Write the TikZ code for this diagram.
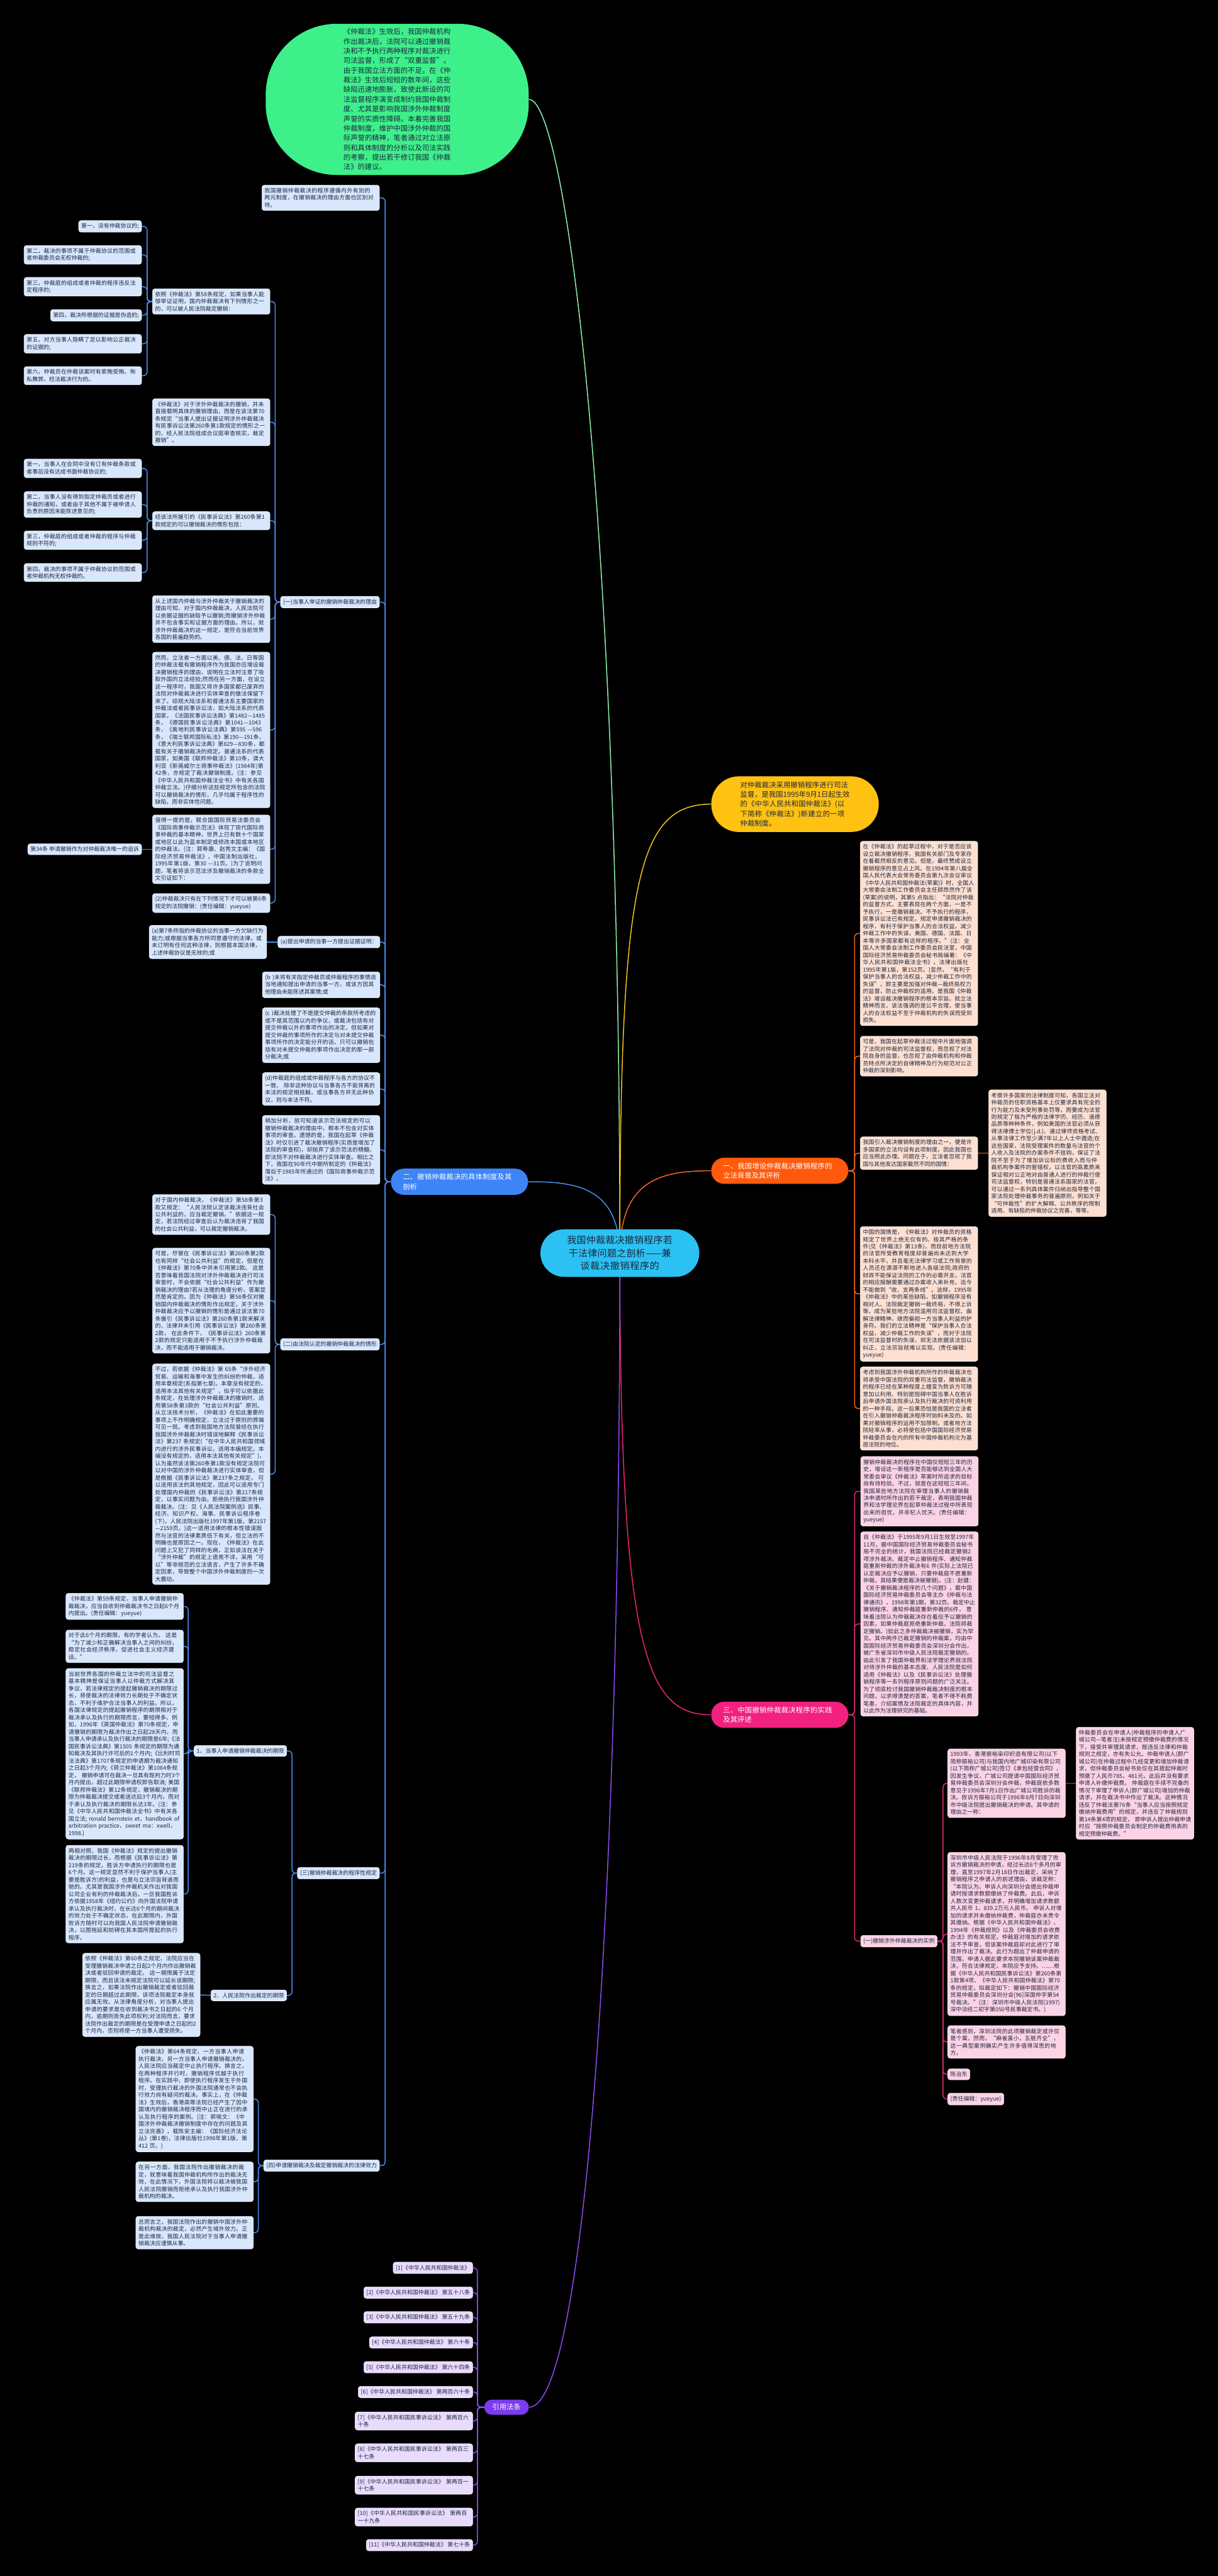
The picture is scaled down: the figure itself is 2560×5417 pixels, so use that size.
\documentclass[tikz,border=0pt]{standalone}
\usepackage{fontspec}
\setmainfont{Noto Sans CJK SC}
\XeTeXlinebreaklocale "zh"
\XeTeXlinebreakskip=0pt plus 1pt
\usetikzlibrary{backgrounds}
\definecolor{ink}{HTML}{1B2740}
\definecolor{rootCyan}{HTML}{2BC2F3}
\definecolor{topGreen}{HTML}{3EF08A}
\definecolor{topLine}{HTML}{8DF0AE}
\definecolor{introYellow}{HTML}{FFC212}
\definecolor{introLine}{HTML}{F2C21B}
\definecolor{bgOrange}{HTML}{FF5A0C}
\definecolor{bgLine}{HTML}{F4671F}
\definecolor{bgLight}{HTML}{FDE0D2}
\definecolor{sysBlue}{HTML}{3D84F6}
\definecolor{sysLine}{HTML}{4B8CF2}
\definecolor{sysLight}{HTML}{D9E7FC}
\definecolor{pracPink}{HTML}{F2207F}
\definecolor{pracLine}{HTML}{E8267A}
\definecolor{pracLight}{HTML}{FCD3E5}
\definecolor{refPurple}{HTML}{7B3BEE}
\definecolor{refLine}{HTML}{8B4DF2}
\definecolor{refLight}{HTML}{E9DBFC}
\newcommand{\leaffont}{\fontsize{11.8}{15.2}\selectfont}
\newcommand{\branchfont}{\fontsize{15}{20.3}\selectfont}
\newcommand{\rootfont}{\fontsize{20}{27}\selectfont}
\tikzset{
    root node/.style={rounded corners=50pt, fill=rootCyan, text=ink,
                      font=\rootfont, align=center, text width=236pt,
                      minimum width=334pt, minimum height=100pt},
    branch node/.style={rounded corners=27pt, text=white, font=\branchfont,
                        inner xsep=25pt, inner ysep=7pt, align=left,
                        text width=238pt, minimum height=55pt},
    leaf/.style={rounded corners=5pt, font=\leaffont, text=ink, align=left,
                 inner xsep=5.5pt, inner ysep=6pt, line width=0.8pt},
    wide/.style={text width=236pt},
    sys box/.style={leaf, fill=sysLight, draw=white!60!sysLight},
    bg box/.style={leaf, fill=bgLight, draw=white!60!bgLight},
    prac box/.style={leaf, fill=pracLight, draw=white!60!pracLight},
    ref box/.style={leaf, fill=refLight, draw=white!60!refLight},
    link/.style={line width=2pt, rounded corners=8pt},
    sys link/.style={link, sysLine},
    bg link/.style={link, bgLine},
    prac link/.style={link, pracLine},
    ref link/.style={link, refLine},
}

\begin{document}
\begin{tikzpicture}[x=1pt, y=-1pt]
\useasboundingbox (0,0) rectangle (2560,5417);
\begin{pgfonlayer}{background}
\fill[black] (0,0) rectangle (2560,5417);
\end{pgfonlayer}

% Centre topic and the main topics around it.
\node[root node] (root) at (1303,2635)
    {我国仲裁裁决撤销程序若\\干法律问题之剖析——兼\\谈裁决撤销程序的};
\node[rounded corners=150pt, fill=topGreen, text=ink, font=\branchfont,
      text width=226pt, align=left, minimum width=553pt, minimum height=318pt]
    (summary) at (835,209)
    {《仲裁法》生效后，我国仲裁机构作出裁决后，法院可以通过撤销裁决和不予执行两种程序对裁决进行司法监督，形成了“双重监督”。由于我国立法方面的不足，在《仲裁法》生效后短短的数年间，这些缺陷迅速地膨胀，致使此新设的司法监督程序演变成制约我国仲裁制度、尤其是影响我国涉外仲裁制度声誉的实质性障碍。本着完善我国仲裁制度，维护中国涉外仲裁的国际声誉的精神，笔者通过对立法原则和具体制度的分析以及司法实践的考察，提出若干修订我国《仲裁法》的建议。};
\node[rounded corners=58pt, fill=introYellow, text=ink, font=\branchfont,
      text width=230pt, align=left, minimum width=352pt, minimum height=117pt,
      anchor=west] (intro) at (1495,1691)
    {对仲裁裁决采用撤销程序进行司法监督，是我国1995年9月1日起生效的《中华人民共和国仲裁法》(以下简称《仲裁法》)新建立的一项仲裁制度。};
\node[branch node, fill=bgOrange, anchor=west] (bg) at (1495,2462)
    {一、我国增设仲裁裁决撤销程序的立法背景及其评析};
\node[branch node, fill=sysBlue, anchor=east] (sys) at (1110,2485)
    {二、撤销仲裁裁决的具体制度及其剖析};
\node[branch node, fill=pracPink, anchor=west] (prac) at (1495,3606)
    {三、中国撤销仲裁裁决程序的实践及其评述};
\node[rounded corners=16pt, fill=refPurple, text=white, font=\branchfont,
      inner xsep=17pt, minimum height=32pt, anchor=east] (refs) at (1112,5062)
    {引用法条};

% Branch one: legislative background (right side).
\node[bg box, wide, anchor=west] (o1) at (1808,1963)
    {在《仲裁法》的起草过程中，对于是否应该设立裁决撤销程序，我国有关部门及专家存在着截然相反的意见。但是，最终赞成设立撤销程序的意见占上风。在1994年第八届全国人民代表大会常务委员会第九次会议审议《中华人民共和国仲裁法(草案)》时，全国人大常委会法制工作委员会主任顾昂然作了该(草案)的说明，其第5 点指出：“法院对仲裁的监督方式，主要表现在两个方面，一是不予执行，一是撤销裁决。不予执行的程序，民事诉讼法已有规定。规定申请撤销裁决的程序，有利于保护当事人的合法权益，减少仲裁工作中的失误，美国、德国、法国、日本等许多国家都有这样的程序。”(注：全国人大常委会法制工作委员会民法室，中国国际经济贸易仲裁委员会秘书局编著：《中华人民共和国仲裁法全书》，法律出版社1995年第1版，第152页。)显然，“有利于保护当事人的合法权益，减少仲裁工作中的失误”，即主要是加强对仲裁—裁终局权力的监督，防止仲裁权的滥用，是我国《仲裁法》增设裁决撤销程序的根本宗旨。就立法精神而言，该法强调的是公平合理，使当事人的合法权益不至于仲裁机构的失误而受到损失。};
\node[bg box, wide, anchor=west] (o2) at (1808,2221)
    {可是，我国在起草仲裁法过程中片面地强调了法院对仲裁的司法监督权，而忽视了对法院自身的监督，也忽视了由仲裁机构和仲裁员特点所决定的自律精神及行为规范对公正仲裁的深刻影响。};
\node[bg box, wide, anchor=west] (o3) at (1808,2425)
    {我国引入裁决撤销制度的理由之一，便是许多国家的立法均设有此项制度，因此我国也应当照此办理。问题在于，立法者忽视了我国与其他发达国家截然不同的国情：};
\node[bg box, wide, anchor=west] (o3a) at (2078,2425)
    {考察许多国家的法律制度可知，各国立法对仲裁员的任职资格基本上仅要求具有完全的行为能力及未受刑事处罚等，而要成为法官则规定了极为严格的法律学历、经历、道德品质等种种条件，例如美国的法官必须从获得法律博士学位(j.d.)、通过律师资格考试、从事法律工作至少满7年以上人士中遴选;在这些国家，法院受理案件的数量与法官的个人收入及法院的办案条件不挂钩，保证了法院不至于为了增加诉讼标的费收入而与仲裁机构争案件的管辖权，以法官的高素质来保证相对公正地对由普通人进行的仲裁行使司法监督权，特别是普通法系国家的法官，可以通过一系列具体案件归纳出指导整个国家法院处理仲裁事务的普遍原则，例如关于“可仲裁性”的扩大解释、公共秩序的限制适用、有缺陷的仲裁协议之完善，等等。};
\node[bg box, wide, anchor=west] (o4) at (1808,2721)
    {中国的国情是，《仲裁法》对仲裁员的资格规定了世界上绝无仅有的、极其严格的条件(见《仲裁法》第13条)，而目前地方法院的法官所受教育程度却普遍尚未达到大学本科水平，并且毫无法律学习或工作背景的人员还在源源不断地进入各级法院;政府的财政不能保证法院的工作的必需开支，法官的相应报酬需要通过办案收入来补充，迄今不能做到“收、支两条线”。这样，1995年《仲裁法》中的某些缺陷，如撤销程序没有相对人、法院裁定撤销一裁终局，不得上诉等，成为某些地方法院滥用司法监督权、曲解法律精神，继而偏袒一方当事人利益的护身符。我们的立法精神是“保护当事人合法权益，减少仲裁工作的失误”，而对于法院在司法监督时的失误，却无法依据该法加以纠正，立法宗旨就难以实现。(责任编辑：yueyue)};
\node[bg box, wide, anchor=west] (o5) at (1808,2962)
    {考虑到我国涉外仲裁机构所作的仲裁裁决也将承受中国法院的双重司法监督，撤销裁决的程序已经在某种程度上嬗变为败诉方可随意加以利用、特别是阻碍中国当事人在胜诉后申请外国法院承认及执行裁决的可资利用的一种手段。这一后果恐怕是我国的立法者在引入撤销仲裁裁决程序时始料未及的。如果对撤销程序的运用不加限制，或者地方法院轻率从事，必将使包括中国国际经济贸易仲裁委员会在内的所有中国仲裁机构沦为基层法院的地位。};

% Branch three: practice in China (right side).
\node[prac box, wide, anchor=west] (p1) at (1809,3136)
    {撤销仲裁裁决的程序在中国仅短短三年的历史，增设这一新程序是否能够达到全国人大常委会审议《仲裁法》草案时所追求的目标尚有待检验。不过，就是在这短短三年间，我国某些地方法院在审理当事人的撤销裁决申请时所作出的若干裁定，表明我国仲裁界和法学理论界在起草仲裁法过程中所表现出来的担忧，并非杞人忧天。(责任编辑：yueyue)};
\node[prac box, wide, anchor=west] (p2) at (1809,3415)
    {自《仲裁法》于1995年9月1日生效至1997年11月，据中国国际经济贸易仲裁委员会秘书局不完全的统计，我国法院已经裁定撤销2 项涉外裁决、裁定中止撤销程序、通知仲裁庭重新仲裁的涉外裁决有6 件(实际上法院已认定裁决应予以撤销，只要仲裁庭不愿重新仲裁，其结果便是裁决被撤销)。(注：赵健：《关于撤销裁决程序的几个问题》，载中国国际经济贸易仲裁委员会等主办《仲裁与法律通讯》，1998年第1期，第32页。裁定中止撤销程序、通知仲裁庭重新仲裁的6件， 意味着法院认为仲裁裁决存在着应予以撤销的因素，如果仲裁庭拒绝重新仲裁，法院将裁定撤销。)如此之多仲裁裁决被撤销，实为罕见。其中两件已裁定撤销的仲裁案，均由中国国际经济贸易仲裁委员会深圳分会作出，被广东省深圳市中级人民法院裁定撤销的。由此引发了我国仲裁界和法学理论界就法院对待涉外仲裁的基本态度、人民法院是如何适用《仲裁法》以及《民事诉讼法》处理撤销程序等一系列程序原则问题的广泛关注。为了彻底检讨我国撤销仲裁裁决制度的根本问题，以求得清楚的答案，笔者不得不耗费笔墨，介绍案情及法院裁定的具体内容，并以此作为法理研究的基础。};
\node[prac box, anchor=west] (p3) at (1809,4082) {(一)撤销涉外仲裁裁决的实例};
\node[prac box, wide, anchor=west] (q1) at (1992,3750)
    {1993年，香港振裕染印织造有限公司(以下简称振裕公司)与我国内地广城印染有限公司(以下简称广城公司)签订《承包经营合同》，因发生争议，广城公司提请中国国际经济贸易仲裁委员会深圳分会仲裁，仲裁庭依多数意见于1996年7月1日作出广城公司胜诉的裁决。败诉方振裕公司于1996年8月7日向深圳市中级法院提出撤销裁决的申请。其申请的理由之一称：};
\node[prac box, wide, anchor=west] (q1a) at (2262,3750)
    {仲裁委员会在申请人(仲裁程序的申请人广城公司—笔者注)未按规定预缴仲裁费的情况下，接受并审理其请求，既违反法律和仲裁规则之规定，亦有失公允。仲裁申请人(即广城公司)在仲裁过程中几经变更和增加仲裁请求，但仲裁委员会秘书处仅在其提起仲裁时预缴了人民币785，481元，此后并没有要求申请人补缴仲裁费。 仲裁庭在手续不完备的情况下审理了申诉人(即广城公司)增加的仲裁请求，并在裁决书中作出了裁决。这种情况违反了仲裁法第76条“当事人应当按照规定缴纳仲裁费用”的规定，并违反了仲裁规则第14条第4项的规定， 即申诉人提出仲裁申请时应“按照仲裁委员会制定的仲裁费用表的规定预缴仲裁费。”};
\node[prac box, wide, anchor=west] (q2) at (1992,4067)
    {深圳市中级人民法院于1996年8月受理了败诉方撤销裁决的申请，经过长达6个多月的审理，直至1997年2月18日作出裁定，采纳了撤销程序之申请人的前述理由，该裁定称：“本院认为，申诉人向深圳分会提出仲裁申请时按请求数额缴纳了仲裁费。此后，申诉人数次变更仲裁请求，并明确增加请求数额共人民币 1，839.2万元人民币。 申诉人对增加的请求并未缴纳仲裁费，仲裁庭亦未责令其缴纳。根据《中华人民共和国仲裁法》、1994年《仲裁规则》以及《仲裁委员会收费办法》的有关规定，仲裁庭对增加的请求依法不予审查，但该案仲裁庭却对此进行了审理并作出了裁决。此行为超出了仲裁申请的范围，申请人据此要求本院撤销该案仲裁裁决，符合法律规定，本院应予支持。……根据《中华人民共和国民事诉讼法》第260条第1款第4项、《中华人民共和国仲裁法》第70条的规定，拟裁定如下：撤销中国国际经济贸易仲裁委员会深圳分会[96]深国仲字第54 号裁决。”(注：深圳市中级人民法院(1997)深中法经二初字第050号民事裁定书。)};
\node[prac box, wide, anchor=west] (q3) at (1992,4294)
    {笔者感到，深圳法院的此项撤销裁定或许仅是个案，然而，“麻雀虽小，五脏齐全”，这一典型案例确实产生许多值得深思的地方。};
\node[prac box, anchor=west] (q4) at (1992,4362) {陈治东};
\node[prac box, anchor=west] (q5) at (1992,4414) {(责任编辑：yueyue)};

% Branch two: the system itself (left side).
\node[sys box, wide, anchor=east] (b1) at (798,416)
    {我国撤销仲裁裁决的程序遵循内外有别的两元制度，在撤销裁决的理由方面也区别对待。};
\node[sys box, anchor=east] (b2) at (798,1266) {(一)当事人举证的撤销仲裁裁决的理由};
\node[sys box, wide, anchor=east] (b2a) at (568,634)
    {依照《仲裁法》第58条规定，如果当事人能够举证证明，国内仲裁裁决有下列情形之一的，可以被人民法院裁定撤销：};
\node[sys box, anchor=east] (k1) at (298,476) {第一，没有仲裁协议的;};
\node[sys box, wide, anchor=east] (k2) at (298,536)
    {第二，裁决的事项不属于仲裁协议的范围或者仲裁委员会无权仲裁的;};
\node[sys box, wide, anchor=east] (k3) at (298,603)
    {第三，仲裁庭的组成或者仲裁的程序违反法定程序的;};
\node[sys box, anchor=east] (k4) at (298,663) {第四，裁决所根据的证据是伪造的;};
\node[sys box, wide, anchor=east] (k5) at (298,723)
    {第五，对方当事人隐瞒了足以影响公正裁决的证据的;};
\node[sys box, wide, anchor=east] (k6) at (298,790)
    {第六，仲裁员在仲裁该案时有索贿受贿，徇私舞弊，枉法裁决行为的。};
\node[sys box, wide, anchor=east] (b2b) at (568,888)
    {《仲裁法》对于涉外仲裁裁决的撤销，并未直接载明具体的撤销理由，而是在该法第70条规定“当事人提出证据证明涉外仲裁裁决有民事诉讼法第260条第1款规定的情形之一的，经人民法院组成合议庭审查核实，裁定撤销”。};
\node[sys box, wide, anchor=east] (b2c) at (568,1095)
    {经该法所援引的《民事诉讼法》第260条第1款规定的可以撤销裁决的情形包括：};
\node[sys box, wide, anchor=east] (m1) at (298,985)
    {第一，当事人在合同中没有订有仲裁条款或者事后没有达成书面仲裁协议的;};
\node[sys box, wide, anchor=east] (m2) at (298,1061)
    {第二，当事人没有得到指定仲裁员或者进行仲裁的通知，或者由于其他不属于被申请人负责的原因未能陈述意见的;};
\node[sys box, wide, anchor=east] (m3) at (298,1136)
    {第三，仲裁庭的组成或者仲裁的程序与仲裁规则不符的;};
\node[sys box, wide, anchor=east] (m4) at (298,1204)
    {第四，裁决的事项不属于仲裁协议的范围或者仲裁机构无权仲裁的。};
\node[sys box, wide, anchor=east] (b2d) at (568,1302)
    {从上述国内仲裁与涉外仲裁关于撤销裁决的理由可知，对于国内仲裁裁决，人民法院可以依据证据的缺陷予以撤销;而撤销涉外仲裁并不包含事实和证据方面的理由。所以，就涉外仲裁裁决的这一规定，是符合当前世界各国的普遍趋势的。};
\node[sys box, wide, anchor=east] (b2e) at (568,1535)
    {然而，立法者一方面以美、德、法、日等国的仲裁法载有撤销程序作为我国亦应增设裁决撤销程序的理由，说明在立法时注意了吸取外国的立法经验;然而在另一方面，在设立这一程序时，我国又将许多国家都已废弃的法院对仲裁裁决进行实体审查的做法保留下来了。综观大陆法系和普通法系主要国家的仲裁法或者民事诉讼法，如大陆法系的代表国家，《法国民事诉讼法典》第1482—1485条，《德国民事诉讼法典》第1041—1043条，《奥地利民事诉讼法典》第595 —596条，《瑞士联邦国际私法》第190—191条，《意大利民事诉讼法典》第829—830条，都载有关于撤销裁决的规定。普通法系的代表国家，如美国《联邦仲裁法》第10条，澳大利亚《新南威尔士商事仲裁法》(1984年)第42条，亦规定了裁决撤销制度。(注：参见《中华人民共和国仲裁法全书》中有关各国仲裁立法。)仔细分析这些规定所包含的法院可以撤销裁决的情形，几乎均属于程序性的缺陷，而非实体性问题。};
\node[sys box, wide, anchor=east] (b2f) at (568,1786)
    {值得一提的是，联合国国际贸易法委员会《国际商事仲裁示范法》体现了现代国际商事仲裁的基本精神，世界上已有数十个国家或地区以此为蓝本制定或修改本国或本地区的仲裁法。(注：郭寿康、赵秀文主编：《国际经济贸易仲裁法》，中国法制出版社，1995年第1版，第30 —31页。)为了说明问题，笔者将该示范法涉及撤销裁决的条款全文引证如下：};
\node[sys box, anchor=east] (art) at (298,1786) {第34条 申请撤销作为对仲裁裁决唯一的追诉};
\node[sys box, wide, anchor=east] (b2g) at (568,1899)
    {(2)仲裁裁决只有在下列情况下才可以被第6条规定的法院撤销：(责任编辑：yueyue)};
\node[sys box, anchor=east] (b3) at (799,1981) {(a)提出申请的当事一方提出证据证明：};
\node[sys box, wide, anchor=east] (b3a) at (561,1981)
    {(a)第7条所指的仲裁协议的当事一方欠缺行为能力;或根据当事各方所同意遵守的法律，或未订明有任何这种法律，则根据本国法律，上述仲裁协议是无效的;或};
\node[sys box, wide, anchor=east] (b4) at (799,2071)
    {(b )未将有关指定仲裁员或仲裁程序的事情适当地通知提出申请的当事一方，或该方因其他理由未能陈述其案情;或};
\node[sys box, wide, anchor=east] (b5) at (799,2177)
    {(c )裁决处理了不是提交仲裁的条款所考虑的或不是其范围以内的争议，或裁决包括有对提交仲裁以外的事项作出的决定，但如果对提交仲裁的事项所作的决定与对未提交仲裁事项所作的决定能分开的话，只可以撤销包括有对未提交仲裁的事项作出决定的那一部分裁决;或};
\node[sys box, wide, anchor=east] (b6) at (799,2290)
    {(d)仲裁庭的组成或仲裁程序与各方的协议不一致， 除非这种协议与当事各方不能背离的本法的规定相抵触，或当事各方并无此种协议，则与本法不符。};
\node[sys box, wide, anchor=east] (b7) at (799,2418)
    {稍加分析，就可知道该示范法规定的可以撤销仲裁裁决的理由中，根本不包含对实体事项的审查。遗憾的是，我国在起草《仲裁法》时仅引进了裁决撤销程序(实质是增加了法院的审查权)，却抛弃了该示范法的精髓，即法院不对仲裁裁决进行实体审查。相比之下，我国在90年代中期所制定的《仲裁法》落后于1985年所通过的《国际商事仲裁示范法》。};
\node[sys box, anchor=east] (b8) at (798,2827) {(二)由法院认定的撤销仲裁裁决的情形};
\node[sys box, wide, anchor=east] (b8a) at (568,2554)
    {对于国内仲裁裁决，《仲裁法》第58条第3款又规定：“人民法院认定该裁决违背社会公共利益的，应当裁定撤销。”依据这一规定，若法院经过审查后认为裁决违背了我国的社会公共利益，可以裁定撤销裁决。};
\node[sys box, wide, anchor=east] (b8b) at (568,2735)
    {可是，尽管在《民事诉讼法》第260条第2款也有同样“社会公共利益”的规定，但是在《仲裁法》第70条中并未引用第2款。 这是否意味着我国法院对涉外仲裁裁决进行司法审查时，不会依据“社会公共利益”作为撤销裁决的理由?若从法理的角度分析，答案显然是肯定的。因为《仲裁法》第58条仅对撤销国内仲裁裁决的情形作出规定，关于涉外仲裁裁决应予以撤销的情形是通过该法第70 条援引《民事诉讼法》第260条第1款来解决的，法律并未引用《民事诉讼法》第260条第2款， 在此条件下，《民事诉讼法》260条第2款的规定只能适用于不予执行涉外仲裁裁决，而不能适用于撤销裁决。};
\node[sys box, wide, anchor=east] (b8c) at (568,3100)
    {不过，若依据《仲裁法》第 65条“涉外经济贸易、运输和海事中发生的纠纷的仲裁，适用本章规定(系指第七章)。本章没有规定的，适用本法其他有关规定”，似乎可以依据此条规定，在处理涉外仲裁裁决的撤销时，适用第58条第3款的“社会公共利益”原则。 从立法技术分析，《仲裁法》在如此重要的事项上不作明确规定，立法过于原则的弊端可见一斑。考虑到我国地方法院曾经在执行我国涉外仲裁裁决时错误地解释《民事诉讼法》第237 条规定(“在中华人民共和国领域内进行的涉外民事诉讼，适用本编规定。本编没有规定的，适用本法其他有关规定”)，认为虽然该法第260条第1款没有规定法院可以对中国的涉外仲裁裁决进行实体审查，但是根据《民事诉讼法》第237条之规定， 可以适用该法的其他规定，因此可以适用专门处理国内仲裁的《民事诉讼法》第217条规定，以事实问题为由，拒绝执行我国涉外仲裁裁决。(注：见《人民法院案例选》民事、经济、知识产权、海事、民事诉讼程序卷(下)，人民法院出版社1997年第1版，第2157—2159页。)这一适用法律的根本性错误固然与法官的法律素质低下有关，但立法的不明确也是原因之一。现在，《仲裁法》在此问题上又犯了同样的毛病，正如该法在关于“涉外仲裁”的规定上语焉不详，采用“可以”等非规范的立法语言，产生了许多不确定因素，导致整个中国涉外仲裁制度的一次大震动。};
\node[sys box, anchor=east] (b9) at (798,3939) {(三)撤销仲裁裁决的程序性规定};
\node[sys box, anchor=east] (t1) at (603,3682) {1、当事人申请撤销仲裁裁决的期限};
\node[sys box, wide, anchor=east] (t1a) at (386,3378)
    {《仲裁法》第59条规定，当事人申请撤销仲裁裁决，应当自收到仲裁裁决书之日起6个月内提出。(责任编辑：yueyue)};
\node[sys box, wide, anchor=east] (t1b) at (386,3462)
    {对于此6个月的期限，有的学者认为， 这是“为了减少和正确解决当事人之间的纠纷，稳定社会经济秩序，促进社会主义经济建设。”};
\node[sys box, wide, anchor=east] (t1c) at (386,3688)
    {当前世界各国的仲裁立法中的司法监督之基本精神是保证当事人以仲裁方式解决其争议，若法律规定的提起撤销裁决的期限过长，将使裁决的法律效力长期处于不确定状态，不利于维护合法当事人的利益。所以，各国法律规定的提起撤销程序的期限相对于裁决承认及执行的期限而言，要短得多。例如，1996年《英国仲裁法》第70条规定，申请撤销的期限为裁决作出之日起28天内，而当事人申请承认及执行裁决的期限是6年;《法国民事诉讼法典》第1505 条规定的期限为通知裁决及其执行许可后的1个月内;《比利时司法法典》第1707条规定的申请期为裁决通知之日起3个月内;《荷兰仲裁法》第1064条规定， 撤销申请可在裁决一旦具有既判力时3个月内提出，超过此期限申请权即告取消; 美国《联邦仲裁法》第12条规定，撤销裁决的期限为仲裁裁决提交或者送达后3个月内，而对于承认及执行裁决的期限长达3年。(注：参见《中华人民共和国仲裁法全书》中有关各国立法; ronald bernstein et，handbook of arbitration practice，sweet ma：xwell，1998.)};
\node[sys box, wide, anchor=east] (t1d) at (386,3983)
    {两相对照，我国《仲裁法》规定的提出撤销裁决的期限过长，而根据《民事诉讼法》第219条的规定，胜诉方申请执行的期限也是6个月。这一规定显然不利于保护当事人(主要是胜诉方)的利益，也是与立法宗旨背道而驰的。尤其是我国涉外仲裁机关作出对我国公司企业有利的仲裁裁决后，一旦我国胜诉方依据1958年《纽约公约》向外国法院申请承认及执行裁决时，在长达6个月的期间裁决的效力处于不确定状态，在此期限内，外国败诉方随时可以向我国人民法院申请撤销裁决，以图拖延和妨碍在其本国所提起的执行程序。};
\node[sys box, anchor=east] (t2) at (603,4196) {2、人民法院作出裁定的期限};
\node[sys box, wide, anchor=east] (t2a) at (421,4195)
    {依照《仲裁法》第60条之规定，法院应当在受理撤销裁决申请之日起2个月内作出撤销裁决或者驳回申请的裁定。 这一期限属于法定期限，而且该法未规定法院可以延长该期限; 换言之，如果法院作出撤销裁定或者驳回裁定的日期超过此期限，该项法院裁定本身就应属无效。从法律角度分析，对当事人提出申请的要求是在收到裁决书之日起的6 个月内，逾期则丧失此项权利;对法院而言，要求法院作出裁定的期限是在受理申请之日起的2个月内，否则将使一方当事人遭受损失。};
\node[sys box, anchor=east] (b10) at (798,4554) {(四)申请撤销裁决及裁定撤销裁决的法律效力};
\node[sys box, wide, anchor=east] (e1) at (533,4414)
    {《仲裁法》第64条规定，一方当事人申请执行裁决，另一方当事人申请撤销裁决的，人民法院应当裁定中止执行程序。换言之，在两种程序并行时，撤销程序优越于执行程序。在实践中，即使执行程序发生于外国时，受理执行裁决的外国法院通常也不会执行效力尚有疑问的裁决。事实上，在《仲裁法》生效后，香港高等法院已经产生了因中国境内的撤销裁决程序而中止正在进行的承认及执行程序的案例。(注：郭晓文：《中国涉外仲裁裁决撤销制度中存在的问题及其立法完善》，载陈安主编：《国际经济法论丛》(第1卷)，法律出版社1998年第1版，第412 页。)};
\node[sys box, wide, anchor=east] (e2) at (533,4588)
    {在另一方面，我国法院作出撤销裁决的裁定，就意味着我国仲裁机构所作出的裁决无效，在此情况下，外国法院将以裁决被我国人民法院撤销而拒绝承认及执行我国涉外仲裁机构的裁决。};
\node[sys box, wide, anchor=east] (e3) at (533,4695)
    {总而言之，我国法院作出的撤销中国涉外仲裁机构裁决的裁定，必然产生域外效力。正是此缘故，我国人民法院对于当事人申请撤销裁决应谨慎从事。};

% Cited articles.
\node[ref box, anchor=east] (r1) at (994,4769) {[1]《中华人民共和国仲裁法》};
\node[ref box, anchor=east] (r2) at (994,4821) {[2]《中华人民共和国仲裁法》 第五十八条};
\node[ref box, anchor=east] (r3) at (994,4873) {[3]《中华人民共和国仲裁法》 第五十九条};
\node[ref box, anchor=east] (r4) at (994,4926) {[4]《中华人民共和国仲裁法》 第六十条};
\node[ref box, anchor=east] (r5) at (994,4978) {[5]《中华人民共和国仲裁法》 第六十四条};
\node[ref box, anchor=east] (r6) at (994,5030) {[6]《中华人民共和国仲裁法》 第两百六十条};
\node[ref box, wide, anchor=east] (r7) at (994,5091) {[7]《中华人民共和国民事诉讼法》 第两百六十条};
\node[ref box, wide, anchor=east] (r8) at (994,5158) {[8]《中华人民共和国民事诉讼法》 第两百三十七条};
\node[ref box, wide, anchor=east] (r9) at (994,5226) {[9]《中华人民共和国民事诉讼法》 第两百一十七条};
\node[ref box, wide, anchor=east] (r10) at (994,5293) {[10]《中华人民共和国民事诉讼法》 第两百一十九条};
\node[ref box, anchor=east] (r11) at (994,5352) {[11]《中华人民共和国仲裁法》 第七十条};

% Connectors, kept behind the boxes.
\begin{pgfonlayer}{background}
\draw[topLine, line width=2pt] (root.center) .. controls (1303,1100) and (1190,209) .. (summary.east);
\draw[introLine, line width=2pt] (root.center) .. controls (1303,1850) and (1340,1691) .. (intro.west);
\draw[bgLine, line width=2pt] (root.center) .. controls (1305,2480) and (1390,2462) .. (bg.west);
\draw[sysLine, line width=2pt] (root.center) .. controls (1300,2495) and (1210,2485) .. (sys.east);
\draw[pracLine, line width=2pt] (root.center) .. controls (1303,3480) and (1360,3606) .. (prac.west);
\draw[refLine, line width=2pt] (root.center) .. controls (1303,4000) and (1230,5062) .. (refs.east);

\foreach \n in {o1,o2,o3,o4,o5}
    \draw[bg link] (bg.east) -- ++(13,0) |- (\n.west);
\draw[bg link] (o3.east) -- (o3a.west);

\foreach \n in {p1,p2,p3}
    \draw[prac link] (prac.east) -- ++(13,0) |- (\n.west);
\foreach \n in {q1,q2,q3,q4,q5}
    \draw[prac link] (p3.east) -- ++(12,0) |- (\n.west);
\draw[prac link] (q1.east) -- (q1a.west);

\foreach \n in {b1,b2,b3,b4,b5,b6,b7,b8,b9,b10}
    \draw[sys link] (sys.west) -- ++(-12,0) |- (\n.east);
\foreach \n in {b2a,b2b,b2c,b2d,b2e,b2f,b2g}
    \draw[sys link] (b2.west) -- ++(-11,0) |- (\n.east);
\foreach \n in {k1,k2,k3,k4,k5,k6}
    \draw[sys link] (b2a.west) -- ++(-11,0) |- (\n.east);
\foreach \n in {m1,m2,m3,m4}
    \draw[sys link] (b2c.west) -- ++(-11,0) |- (\n.east);
\draw[sys link] (b2f.west) -- (art.east);
\draw[sys link] (b3.west) -- (b3a.east);
\foreach \n in {b8a,b8b,b8c}
    \draw[sys link] (b8.west) -- ++(-11,0) |- (\n.east);
\foreach \n in {t1,t2}
    \draw[sys link] (b9.west) -- ++(-11,0) |- (\n.east);
\foreach \n in {t1a,t1b,t1c,t1d}
    \draw[sys link] (t1.west) -- ++(-12,0) |- (\n.east);
\draw[sys link] (t2.west) -- (t2a.east);
\foreach \n in {e1,e2,e3}
    \draw[sys link] (b10.west) -- ++(-11,0) |- (\n.east);

\foreach \n in {r1,r2,r3,r4,r5,r6,r7,r8,r9,r10,r11}
    \draw[ref link] (refs.west) -- ++(-14,0) |- (\n.east);
\end{pgfonlayer}

\end{tikzpicture}
\end{document}
